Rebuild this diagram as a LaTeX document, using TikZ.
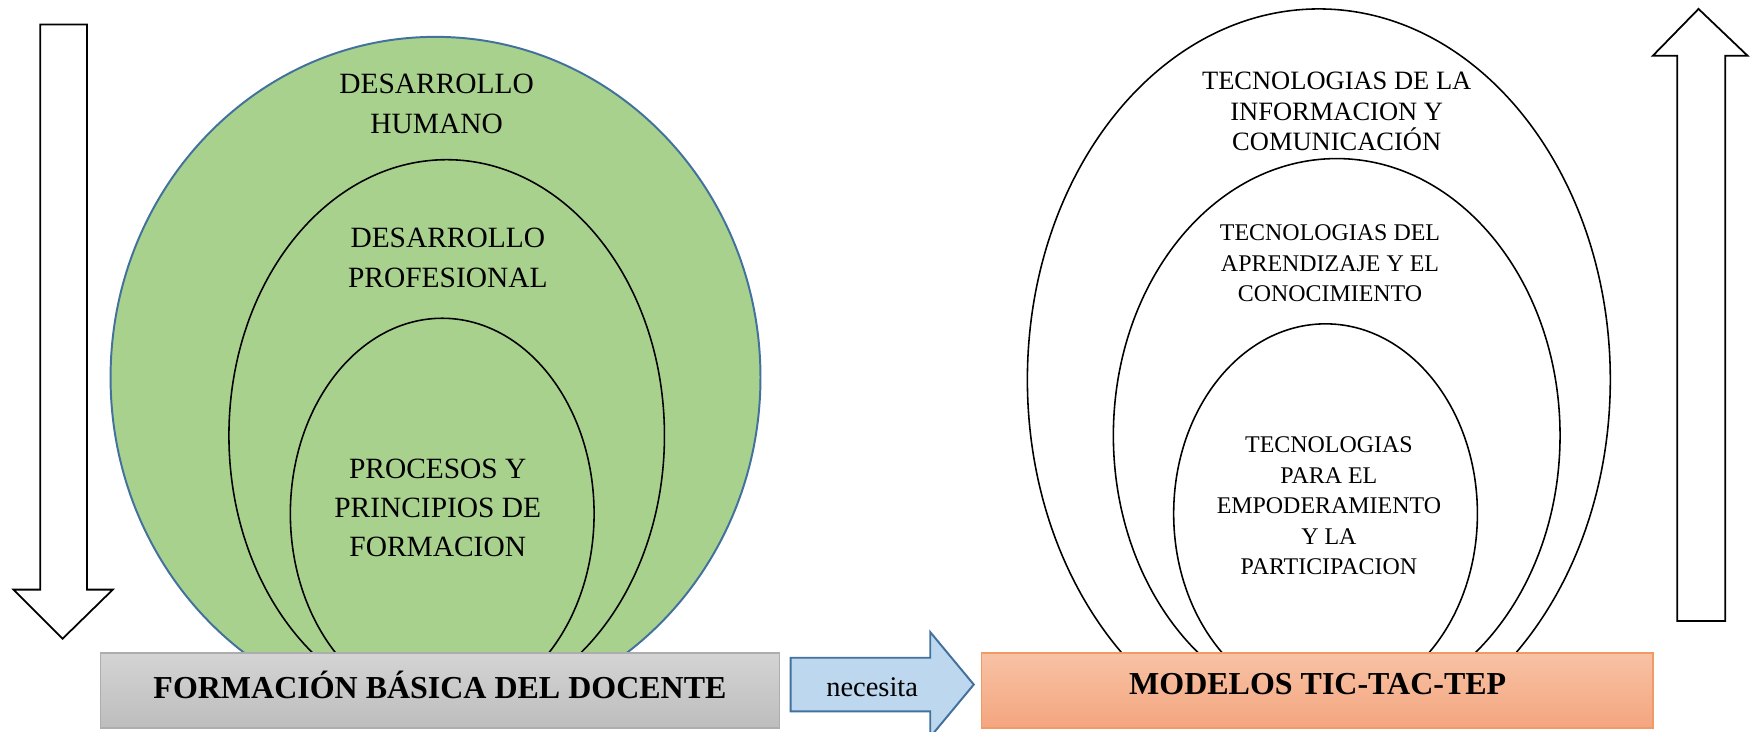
\documentclass[tikz,border=0pt]{standalone}
\usepackage{fontspec}
\setmainfont{Liberation Serif}
\definecolor{verde}{HTML}{A9D18E}
\definecolor{azulborde}{HTML}{41719C}
\definecolor{azulclaro}{HTML}{BDD7EE}
\definecolor{grisarriba}{HTML}{D4D4D4}
\definecolor{grisabajo}{HTML}{BDBDBD}
\definecolor{grisborde}{HTML}{ADADAD}
\definecolor{naranjaarriba}{HTML}{F7C2A4}
\definecolor{naranjaabajo}{HTML}{F4A57F}
\definecolor{naranjaborde}{HTML}{F09A66}
\begin{document}
\begin{tikzpicture}[x=0.02cm,y=-0.02cm,
    capa/.style={draw=black,line width=0.8pt},
    flecha/.style={draw=black,line width=0.9pt,fill=white},
    textoizq/.style={align=center,inner sep=0pt,font=\fontsize{15}{20}\selectfont},
    textoder/.style={align=center,inner sep=0pt,font=\fontsize{13.5}{15.6}\selectfont},
    textochico/.style={align=center,inner sep=0pt,font=\fontsize{12.2}{15.6}\selectfont},
    titulo/.style={inner sep=0pt,font=\fontsize{16.3}{19}\selectfont\bfseries}]
    \useasboundingbox (0,0) rectangle (1568,655);

    % flechas laterales
    \draw[flecha] (36,22) -- (78,22) -- (78,528) -- (101,528) -- (56,572) -- (12,528) -- (36,528) -- cycle;
    \draw[flecha] (1502,556) -- (1502,50) -- (1480,50) -- (1521,8) -- (1565,50) -- (1545,50) -- (1545,556) -- cycle;

    \begin{scope}
        \clip (0,0) rectangle (1568,586);
        \draw[fill=verde,draw=azulborde,line width=1pt] (390,338) ellipse [x radius=291, y radius=305];
        \draw[capa] (400,390) ellipse [x radius=195, y radius=247];
        \draw[capa] (396,460) ellipse [x radius=136, y radius=175];

        \draw[capa] (1181,340) ellipse [x radius=261, y radius=332];
        \draw[capa] (1197,390) ellipse [x radius=200, y radius=248];
        \draw[capa] (1187,460) ellipse [x radius=136, y radius=170];
    \end{scope}

    \node[textoizq] (humano) at (391,93) {DESARROLLO\\HUMANO};
    \node[textoizq] (profesional) at (401,231) {DESARROLLO\\PROFESIONAL};
    \node[textoizq] (procesos) at (392,455) {PROCESOS Y\\PRINCIPIOS DE\\FORMACION};

    \node[textoder] (tic) at (1197,100) {TECNOLOGIAS DE LA\\INFORMACION Y\\COMUNICACIÓN};
    \node[textochico] (tac) at (1191,236) {TECNOLOGIAS DEL\\APRENDIZAJE Y EL\\CONOCIMIENTO};
    \node[textochico] (tep) at (1190,453) {TECNOLOGIAS\\PARA EL\\EMPODERAMIENTO\\Y LA\\PARTICIPACION};

    % cajas de base
    \shade[top color=grisarriba,bottom color=grisabajo,draw=grisborde,line width=0.8pt] (90,585) rectangle (698,652);
    \node[titulo] (formacion) at (394,613) {FORMACIÓN BÁSICA DEL DOCENTE};

    \shade[top color=naranjaarriba,bottom color=naranjaabajo,draw=naranjaborde,line width=0.8pt] (879,585) rectangle (1480,652);
    \node[titulo] (modelos) at (1180,613) {MODELOS TIC-TAC-TEP};

    \draw[fill=azulclaro,draw=azulborde,line width=1pt] (708,589) -- (833,589) -- (833,566) -- (872,613) -- (833,660) -- (833,637) -- (708,637) -- cycle;
    \node[font=\fontsize{14.5}{17}\selectfont,inner sep=0pt] (necesita) at (781,615) {necesita};
\end{tikzpicture}
\end{document}
